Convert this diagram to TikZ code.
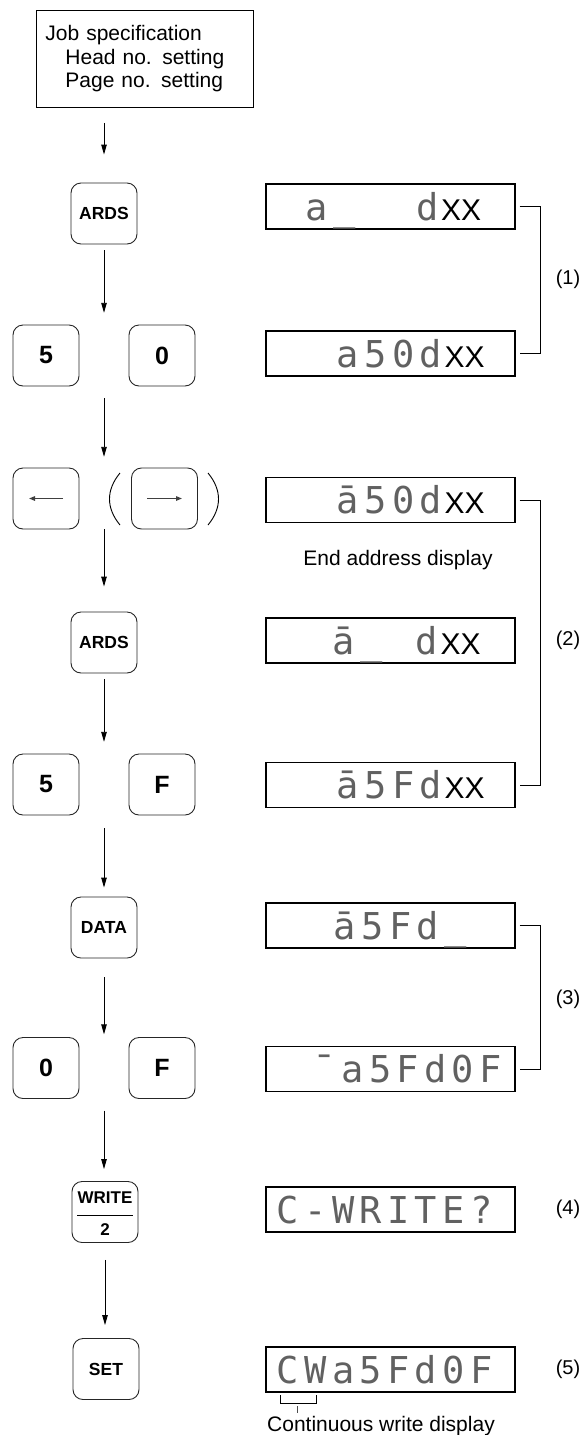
\documentclass[tikz,border=0pt]{standalone}
\usepackage{fontspec}
\setmainfont{Liberation Sans}
\newfontfamily\lcdfont{DejaVu Sans Mono}
\usetikzlibrary{arrows.meta}
\makeatletter
\newlength\lcdpitch \setlength\lcdpitch{27.6pt}
\newcommand\lcdrow[1]{\@tfor\lcd@c:=#1\do{\makebox[\lcdpitch][c]{\lcd@c}}}
\makeatother
\newcommand\xx{{\color{black}\rmfamily\fontsize{30}{30}\selectfont XX}}
\begin{document}
\begin{tikzpicture}[x=1pt,y=-1pt,
  key/.style={draw=black!85, line width=0.9pt, rounded corners=10pt, minimum width=66pt, minimum height=61pt, inner sep=0pt, font=\bfseries\fontsize{17.5}{20}\selectfont},
  bigkey/.style={key, font=\bfseries\fontsize{25}{27}\selectfont},
  rowpt/.style={inner sep=0pt, minimum width=0pt, minimum height=61pt},
  disp/.style={draw, line width=1.1pt, minimum width=249pt, minimum height=45pt, inner sep=0pt},
  lcd/.style={anchor=base west, inner sep=0pt, text=black!62, font=\lcdfont\fontsize{37}{37}\selectfont},
  flow/.style={line width=0.9pt, -{Triangle[length=10pt,width=5.5pt]}},
  brk/.style={line width=1pt},
  lbl/.style={font=\fontsize{20}{24}\selectfont},
  note/.style={font=\fontsize{21}{24}\selectfont},
  kar/.style={line width=1.3pt, black!75, -{Triangle[length=6pt,width=4.5pt]}},
]
\useasboundingbox (0,0) rectangle (581,1435);

% job box
\node[draw, line width=0.9pt, anchor=north west, minimum width=217pt, minimum height=97pt,
      text width=199pt, inner xsep=9pt, align=left, font=\fontsize{21}{23.5}\selectfont]
  (job) at (36,10) {Job specification\\\hspace*{20pt}Head no. setting\\\hspace*{20pt}Page no. setting};

% keys
\node[key] (ards1) at (104,213.5) {ARDS};
\node[bigkey] (k5a) at (46,355.5) {5};
\node[bigkey] (k0a) at (162,355.5) {0};
\node[rowpt] (r2) at (104,355.5) {};
\node[key] (kl) at (46,498.5) {};
\node[key] (kr) at (164.5,498.5) {};
\node[rowpt] (r3) at (104,498.5) {};
\draw[kar] ([xshift=17pt]kl.center) -- ([xshift=-17pt]kl.center);
\draw[kar] ([xshift=-17.5pt]kr.center) -- ([xshift=17.5pt]kr.center);
\draw[line width=0.9pt] (120,473) .. controls (106,490) and (106,508) .. (120,525);
\draw[line width=0.9pt] (208,473) .. controls (222,490) and (222,508) .. (208,525);
\node[key] (ards2) at (104,642.5) {ARDS};
\node[bigkey] (k5b) at (46,784.5) {5};
\node[bigkey] (kFb) at (162,784.5) {F};
\node[rowpt] (r5) at (104,784.5) {};
\node[key] (data) at (104,927.5) {DATA};
\node[bigkey] (k0c) at (46,1068) {0};
\node[bigkey] (kFc) at (162,1068) {F};
\node[rowpt] (r7) at (104,1068) {};
\node[key] (write) at (105,1212) {};
\node[font=\bfseries\fontsize{17}{19}\selectfont] (wtxt) at ([yshift=14pt]write.center) {WRITE};
\draw[line width=1pt] ([xshift=-28pt,yshift=-3pt]write.center) -- ([xshift=28pt,yshift=-3pt]write.center);
\node[font=\bfseries\fontsize{17}{19}\selectfont] (wtwo) at ([yshift=-18pt]write.center) {2};
\node[key] (set) at (106,1369) {SET};

% flow arrows
\draw[flow, shorten <=15pt, shorten >=28pt] (job.south -| ards1.north) -- (ards1.north);
\draw[flow, shorten <=6pt, shorten >=12pt] (ards1) -- (r2);
\draw[flow, shorten <=12pt, shorten >=11pt] (r2) -- (r3);
\draw[flow, shorten <=0pt, shorten >=25pt] (r3) -- (ards2);
\draw[flow, shorten <=6pt, shorten >=12pt] (ards2) -- (r5);
\draw[flow, shorten <=13pt, shorten >=9pt] (r5) -- (data);
\draw[flow, shorten <=19pt, shorten >=3pt] (data) -- (r7);
\draw[flow, shorten <=12pt, shorten >=12pt] (r7) -- (write.north -| r7.south);
\draw[flow, shorten <=17pt, shorten >=13pt] (write) -- (set.north -| write.south);

% displays
\node[disp] (d1) at (390.5,206.5) {};
\node[lcd] (t1) at (303,220) {\lcdrow{a\_~~d}\xx};
\node[disp] (d2) at (390.5,353.5) {};
\node[lcd] (t2) at (334,367) {\lcdrow{a50d}\xx};
\node[disp] (d3) at (390.5,500) {};
\node[lcd] (t3) at (334,513.5) {\lcdrow{ā50d}\xx};
\node[note] (ead) at (398,560) {End address display};
\node[disp] (d4) at (390.5,640.5) {};
\node[lcd] (t4) at (330,654) {\lcdrow{ā\_~d}\xx};
\node[disp] (d5) at (390.5,785) {};
\node[lcd] (t5) at (334,798.5) {\lcdrow{ā5Fd}\xx};
\node[disp] (d6) at (390.5,925.5) {};
\node[lcd] (t6) at (331,939) {\lcdrow{ā5Fd\_}};
\node[disp] (d7) at (390.5,1069) {};
\node[lcd] (t7) at (311,1082.5) {\lcdrow{¯a5Fd0F}};
\node[disp] (d8) at (390.5,1209.5) {};
\node[lcd] (t8) at (274,1223) {\lcdrow{C-WRITE?}};
\node[disp] (d9) at (390.5,1369.5) {};
\node[lcd] (t9) at (274,1383) {\lcdrow{CWa5Fd0F}};

% group brackets
\draw[brk] ([xshift=4pt]d1.east) -- ++(21,0) |- ([xshift=4pt]d2.east);
\draw[brk] ([xshift=4pt]d3.east) -- ++(21,0) |- ([xshift=4pt]d5.east);
\draw[brk] ([xshift=4pt]d6.east) -- ++(21,0) |- ([xshift=4pt]d7.east);
\node[lbl] (l1) at (568,279) {(1)};
\node[lbl] (l2) at (568,640) {(2)};
\node[lbl] (l3) at (568,999) {(3)};
\node[lbl] (l4) at (568,1209.5) {(4)};
\node[lbl] (l5) at (568,1369.5) {(5)};

% continuous write marker
\draw[line width=1pt] (280,1395) -- (280,1403) -- (316,1403) -- (316,1395);
\draw[line width=0.8pt, black!70] (297,1406) -- (297,1413);
\node[note, anchor=base] (cwd) at (381,1431) {Continuous write display};
\end{tikzpicture}
\end{document}
